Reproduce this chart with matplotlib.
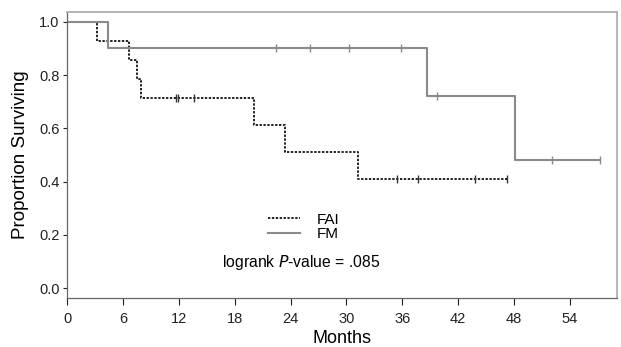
import matplotlib
matplotlib.use("Agg")
from matplotlib import pyplot as plt
from matplotlib.lines import Line2D

plt.rcParams['font.family'] = ['Liberation Sans', 'DejaVu Sans']

# FAI group: step times (months) and survival after each step
fai_t = [0, 3.2, 6.7, 7.5, 7.9, 20.1, 23.4, 31.3, 47.3]
fai_s = [1.0, 0.929, 0.857, 0.786, 0.714, 0.612, 0.510, 0.408, 0.408]
fai_cens_t = [11.7, 11.9, 13.6, 35.4, 37.7, 43.8, 47.3]
fai_cens_s = [0.714, 0.714, 0.714, 0.408, 0.408, 0.408, 0.408]

# FM group
fm_t = [0, 4.4, 38.7, 48.1, 57.2]
fm_s = [1.0, 0.90, 0.72, 0.48, 0.48]
fm_cens_t = [22.4, 26.1, 30.3, 35.9, 39.7, 52.1, 57.2]
fm_cens_s = [0.90, 0.90, 0.90, 0.90, 0.72, 0.48, 0.48]

xticks = [0, 6, 12, 18, 24, 30, 36, 42, 48, 54]
yticks = [0.0, 0.2, 0.4, 0.6, 0.8, 1.0]

fig = plt.figure(figsize=(6.21, 3.47), dpi=100)
ax = fig.add_axes([0.108, 0.141, 0.886, 0.825])

fai_style = dict(color='#222222', linestyle=(0, (1.2, 0.8)), linewidth=1.4)
fm_style = dict(color='#8a8a8a', linestyle='-', linewidth=1.5)

ax.step(fai_t, fai_s, where='post', **fai_style)
ax.step(fm_t, fm_s, where='post', **fm_style)
ax.plot(fai_cens_t, fai_cens_s, linestyle='none', marker='|', markersize=6,
        color='#333333', markeredgewidth=1.0)
ax.plot(fm_cens_t, fm_cens_s, linestyle='none', marker='|', markersize=6,
        color='#8a8a8a', markeredgewidth=1.0)

ax.set_xlim(0, 59.1)
ax.set_ylim(-0.0375, 1.0375)
ax.set_xticks(xticks)
ax.set_xticklabels([str(v) for v in xticks])
ax.set_yticks(yticks)
ax.set_yticklabels(['%.1f' % v for v in yticks])
ax.tick_params(axis='x', direction='out', length=5, width=0.8, pad=4.7,
               labelsize=10.5, colors='#222222')
ax.tick_params(axis='y', direction='out', length=3, width=0.8, pad=2.5,
               labelsize=10.5, colors='#222222')

for s in ['left', 'bottom']:
    ax.spines[s].set_color('#666666')
    ax.spines[s].set_linewidth(0.9)
for s in ['top', 'right']:
    ax.spines[s].set_color('#b0b0b0')
    ax.spines[s].set_linewidth(1.3)

ax.set_xlabel('Months', fontsize=13, labelpad=3.5)
ax.set_ylabel('Proportion Surviving', fontsize=13.5, labelpad=7)

handles = [Line2D([], [], **fai_style), Line2D([], [], **fm_style)]
ax.legend(handles, ['FAI', 'FM'], loc='center left', bbox_to_anchor=(0.365, 0.248),
          frameon=False, fontsize=11, handlelength=2.1, labelspacing=0.05,
          handletextpad=1.1, borderpad=0, borderaxespad=0)

ax.text(0.282, 0.126, 'logrank $\\it{P}$-value = .085', transform=ax.transAxes,
        fontsize=11.3, ha='left', va='center')

fig.savefig('out.png', dpi=100)
